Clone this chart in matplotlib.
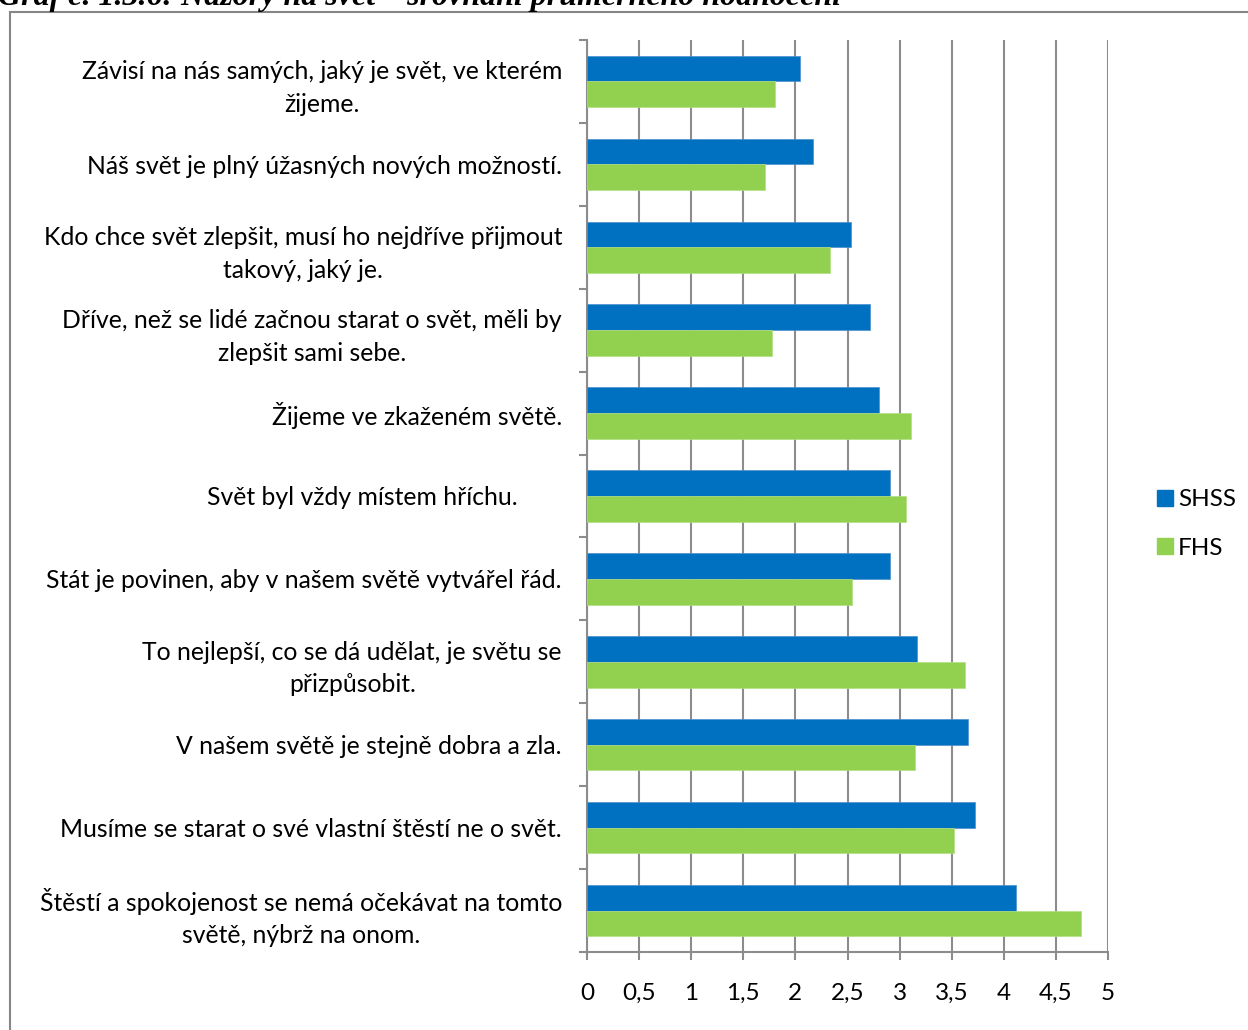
import numpy as np
import matplotlib
matplotlib.use("Agg")
import matplotlib.pyplot as plt
from matplotlib.lines import Line2D
from matplotlib.patches import Rectangle

labels = [
    "Závisí na nás samých, jaký je svět, ve kterém\nžijeme.",
    "Náš svět je plný úžasných nových možností.",
    "Kdo chce svět zlepšit, musí ho nejdříve přijmout\ntakový, jaký je.",
    "Dříve, než se lidé začnou starat o svět, měli by\nzlepšit sami sebe.",
    "Žijeme ve zkaženém světě.",
    "Svět byl vždy místem hříchu.\u00a0\u00a0\u00a0\u00a0\u00a0\u00a0\u00a0",
    "Stát je povinen, aby v našem světě vytvářel řád.",
    "To nejlepší, co se dá udělat, je světu se\npřizpůsobit.",
    "V našem světě je stejně dobra a zla.",
    "Musíme se starat o své vlastní štěstí ne o svět.",
    "Štěstí a spokojenost se nemá očekávat na tomto\nsvětě, nýbrž na onom.",
]
shss = [2.04, 2.17, 2.53, 2.72, 2.80, 2.91, 2.91, 3.17, 3.66, 3.72, 4.12]
fhs = [1.80, 1.71, 2.33, 1.78, 3.11, 3.06, 2.54, 3.63, 3.15, 3.52, 4.74]
xticks = [0, 0.5, 1, 1.5, 2, 2.5, 3, 3.5, 4, 4.5, 5]
xticklabels = ["0", "0,5", "1", "1,5", "2", "2,5", "3", "3,5", "4", "4,5", "5"]

blue = "#0070C0"
green = "#92D050"
grey = "#8C8C8C"

plt.rcParams['font.family'] = ['Lato', 'DejaVu Sans']

W, H = 1248, 1030
fig = plt.figure(figsize=(W / 100, H / 100), dpi=100)

# chart frame (extends past right and bottom edges)
fig.patches.append(Rectangle((10 / W, -0.1), 1.2, 1 - 12 / H + 0.1,
                             transform=fig.transFigure, fill=False,
                             edgecolor="#868686", linewidth=1.5))

fig.text(-2 / W, 1 - 5 / H,
         "Graf č. 1.3.6: Názory na svět – srovnání průměrného hodnocení",
         family="Liberation Serif", weight="bold", style="italic",
         fontsize=23, ha="left", va="baseline")

ax = fig.add_axes([587 / W, 1 - 952 / H, (1108 - 587) / W, (952 - 40) / H])

y = np.arange(len(labels))
h = 0.31
ax.barh(y - h / 2, shss, height=h, color=blue, edgecolor="#4a90d0",
        linewidth=0.5, zorder=3)
ax.barh(y + h / 2, fhs, height=h, color=green, edgecolor="#b0e080",
        linewidth=0.5, zorder=3)

ax.set_xlim(0, 5)
ax.set_ylim(len(labels) - 0.5, -0.5)
ax.set_xticks(xticks)
ax.set_xticklabels(xticklabels, fontsize=17.5)
ax.set_yticks(y)
ax.set_yticklabels(labels, fontsize=17.8, multialignment="center",
                   linespacing=1.5)
ax.set_yticks(np.arange(len(labels) + 1) - 0.5, minor=True)
ax.tick_params(axis="y", which="major", length=0, pad=18)
ax.tick_params(axis="y", which="minor", length=5.5, width=1.5, color=grey,
               direction="out")
ax.tick_params(axis="x", length=5.5, width=1.5, color=grey, pad=17)

ax.grid(axis="x", color=grey, linewidth=1.5, zorder=0)
for s in ["top", "right"]:
    ax.spines[s].set_visible(False)
for s in ["left", "bottom"]:
    ax.spines[s].set_color(grey)
    ax.spines[s].set_linewidth(1.5)

handles = [Line2D([], [], marker="s", linestyle="none", markersize=11,
                  markerfacecolor=blue, markeredgecolor=blue),
           Line2D([], [], marker="s", linestyle="none", markersize=11,
                  markerfacecolor=green, markeredgecolor=green)]
fig.legend(handles, ["SHSS", "FHS"], loc="center left",
           bbox_to_anchor=(1144 / W, 1 - 524 / H), frameon=False,
           fontsize=17.5, handlelength=0.7, handletextpad=0.2,
           labelspacing=1.15, borderpad=0)

fig.savefig("out.png", dpi=100)
